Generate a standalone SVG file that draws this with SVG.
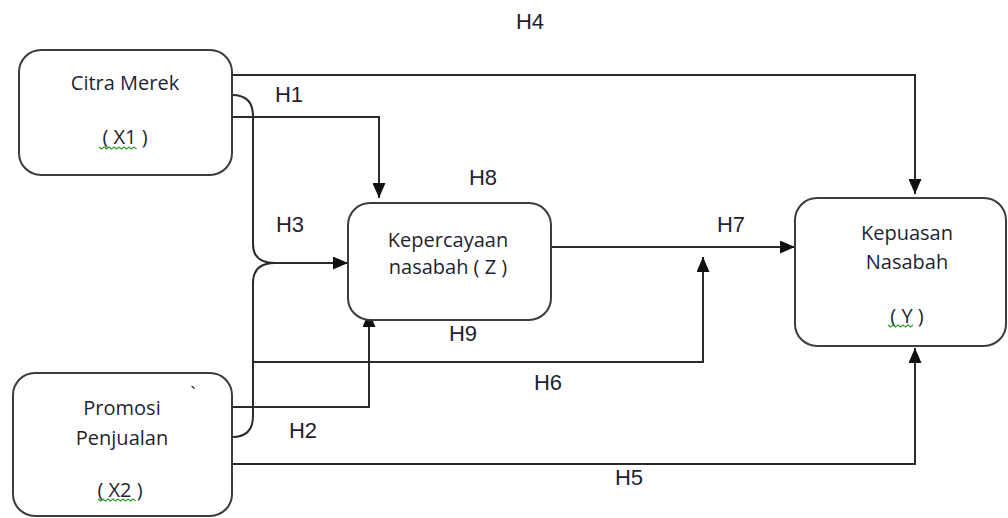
<svg xmlns="http://www.w3.org/2000/svg" width="1008" height="518" viewBox="0 0 1008 518">
  <style>
    .box { fill: #ffffff; stroke: #3c3c3c; stroke-width: 2; }
    .node { font-family: "Open Sans", "Noto Sans", sans-serif; font-size: 20px; fill: #1f1f33; text-anchor: middle; }
    .lbl { font-family: "Liberation Sans", Arial, sans-serif; font-size: 22px; fill: #1f1f33; text-anchor: middle; }
    .wire { fill: none; stroke: #2a2a2a; stroke-width: 2; }
    .squig { fill: none; stroke: #2ca02c; stroke-width: 1.2; }
  </style>
  <defs>
    <marker id="arrow" viewBox="0 0 15 13" refX="15" refY="6.5" markerWidth="15" markerHeight="13" markerUnits="userSpaceOnUse" orient="auto">
      <path d="M0,0 L15,6.5 L0,13 Z" fill="#111111"/>
    </marker>
  </defs>

  <rect width="1008" height="518" fill="#ffffff"/>

  <!-- connectors -->
  <g id="connectors">
    <!-- H4: Citra Merek -> Kepuasan -->
    <path class="wire" d="M232,75 L915,75 L915,194" marker-end="url(#arrow)"/>
    <!-- H1: Citra Merek -> Kepercayaan -->
    <path class="wire" d="M232,117 L379,117 L379,198" marker-end="url(#arrow)"/>
    <!-- brace joining X1 and X2 (H3) -->
    <path class="wire" d="M232,95 Q253,95 253,116 L253,244 Q253,263 275,263 Q253,263 253,283 L253,416 Q253,437 232,437"/>
    <path class="wire" d="M275,263 L348,263" marker-end="url(#arrow)"/>
    <!-- H7: Kepercayaan -> Kepuasan -->
    <path class="wire" d="M551,247 L795,247" marker-end="url(#arrow)"/>
    <!-- H6: from brace into H7 -->
    <path class="wire" d="M253,362 L703,362 L703,257" marker-end="url(#arrow)"/>
    <!-- H2: Promosi -> Kepercayaan -->
    <path class="wire" d="M232,407 L369,407 L369,312" marker-end="url(#arrow)"/>
    <!-- H5: Promosi -> Kepuasan -->
    <path class="wire" d="M232,464 L915,464 L915,348" marker-end="url(#arrow)"/>
  </g>

  <!-- nodes -->
  <g id="citra-merek">
    <rect class="box" x="19" y="50" width="213" height="125" rx="22"/>
    <text class="node" x="125" y="90">Citra Merek</text>
    <text class="node" x="125" y="144">( X1 )</text>
    <path class="squig" d="M99,147 l2.5,2 l2.5,-2 l2.5,2 l2.5,-2 l2.5,2 l2.5,-2 l2.5,2 l2.5,-2 l2.5,2 l2.5,-2 l2.5,2 l2.5,-2 l2.5,2 l2.5,-2 l2.5,2"/>
  </g>

  <g id="kepercayaan">
    <rect class="box" x="348" y="203" width="203" height="117" rx="22"/>
    <text class="node" x="448" y="247">Kepercayaan</text>
    <text class="node" x="448" y="274">nasabah ( Z )</text>
  </g>

  <g id="kepuasan">
    <rect class="box" x="795" y="198" width="211" height="148" rx="22"/>
    <text class="node" x="907" y="240">Kepuasan</text>
    <text class="node" x="907" y="269">Nasabah</text>
    <text class="node" x="907" y="323">( Y )</text>
    <path class="squig" d="M888,325 l2.5,2 l2.5,-2 l2.5,2 l2.5,-2 l2.5,2 l2.5,-2 l2.5,2 l2.5,-2 l2.5,2 l2.5,-2"/>
  </g>

  <g id="promosi">
    <rect class="box" x="13" y="373" width="219" height="143" rx="22"/>
    <text class="node" x="122" y="415">Promosi</text>
    <text class="node" x="122" y="445">Penjualan</text>
    <text class="node" x="120" y="497">( X2 )</text>
    <text class="node" x="193" y="401">`</text>
    <path class="squig" d="M98,499 l2.5,2 l2.5,-2 l2.5,2 l2.5,-2 l2.5,2 l2.5,-2 l2.5,2 l2.5,-2 l2.5,2 l2.5,-2 l2.5,2 l2.5,-2 l2.5,2 l2.5,-2 l2.5,2"/>
  </g>

  <!-- hypothesis labels -->
  <g id="labels">
    <text class="lbl" x="530" y="29">H4</text>
    <text class="lbl" x="289" y="102">H1</text>
    <text class="lbl" x="483" y="185">H8</text>
    <text class="lbl" x="290" y="232">H3</text>
    <text class="lbl" x="731" y="232">H7</text>
    <text class="lbl" x="463" y="341">H9</text>
    <text class="lbl" x="548" y="390">H6</text>
    <text class="lbl" x="303" y="438">H2</text>
    <text class="lbl" x="629" y="485">H5</text>
  </g>
</svg>
